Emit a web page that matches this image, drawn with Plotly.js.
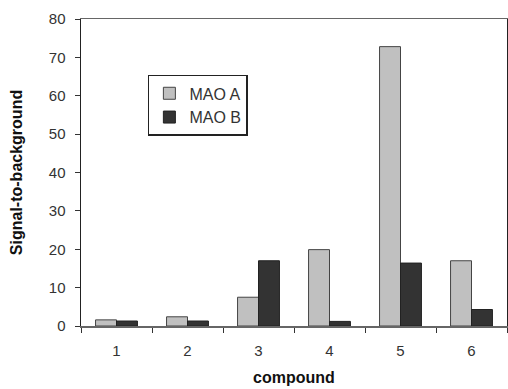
<!DOCTYPE html>
<html>
<head>
<meta charset="utf-8">
<script src="https://cdn.plot.ly/plotly-3.0.1.min.js"></script>
<style>html,body{margin:0;padding:0;background:#fff;}#chart{width:508px;height:389px;}</style>
</head>
<body>
<div id="chart"></div>
<script>
const compounds = ["1", "2", "3", "4", "5", "6"];
const maoA = [1.6, 2.4, 7.5, 19.9, 72.8, 17.0];
const maoB = [1.3, 1.3, 17.0, 1.2, 16.4, 4.3];
const yTicks = [0, 10, 20, 30, 40, 50, 60, 70, 80];

const fam = "Liberation Sans, Arial, sans-serif";
const tickFont = {family: fam, size: 15, color: "#333"};

const traces = [
  {type: "bar", name: "MAO A", x: compounds, y: maoA,
   marker: {color: "#c0c0c0", line: {color: "#444", width: 1}}},
  {type: "bar", name: "MAO B", x: compounds, y: maoB,
   marker: {color: "#333333", line: {color: "#222", width: 1}}}
];

const layout = {
  width: 508, height: 389,
  margin: {l: 81, r: 1, t: 19, b: 63},
  paper_bgcolor: "#fff", plot_bgcolor: "#fff",
  font: tickFont,
  barmode: "group", bargap: 0.41, bargroupgap: 0,
  showlegend: true,
  legend: {x: 0.157, y: 0.818, xanchor: "left", yanchor: "top",
           bordercolor: "#222", borderwidth: 1.5, bgcolor: "#fff",
           font: {family: fam, size: 16, color: "#333"},
           itemwidth: 30},
  xaxis: {type: "category", tickson: "boundaries", ticks: "outside", ticklen: 5,
          tickcolor: "#333", showline: true, linecolor: "#666", linewidth: 1.5,
          mirror: true, showgrid: false, zeroline: false,
          tickfont: tickFont, ticklabelstandoff: 10,
          title: {text: "compound", font: {family: fam, size: 16, color: "#111", weight: "bold"}, standoff: 14}},
  yaxis: {range: [0, 80], tickmode: "array", tickvals: yTicks, ticktext: yTicks.map(String),
          ticks: "outside", ticklen: 5, tickcolor: "#333",
          showline: true, linecolor: "#222", linewidth: 1.5, mirror: true,
          showgrid: false, zeroline: false, tickfont: tickFont, ticklabelstandoff: 6,
          title: {text: "Signal-to-background", font: {family: fam, size: 16, color: "#111", weight: "bold"}, standoff: 22}}
};

Plotly.newPlot("chart", traces, layout, {displayModeBar: false, staticPlot: true});
</script>
</body>
</html>
